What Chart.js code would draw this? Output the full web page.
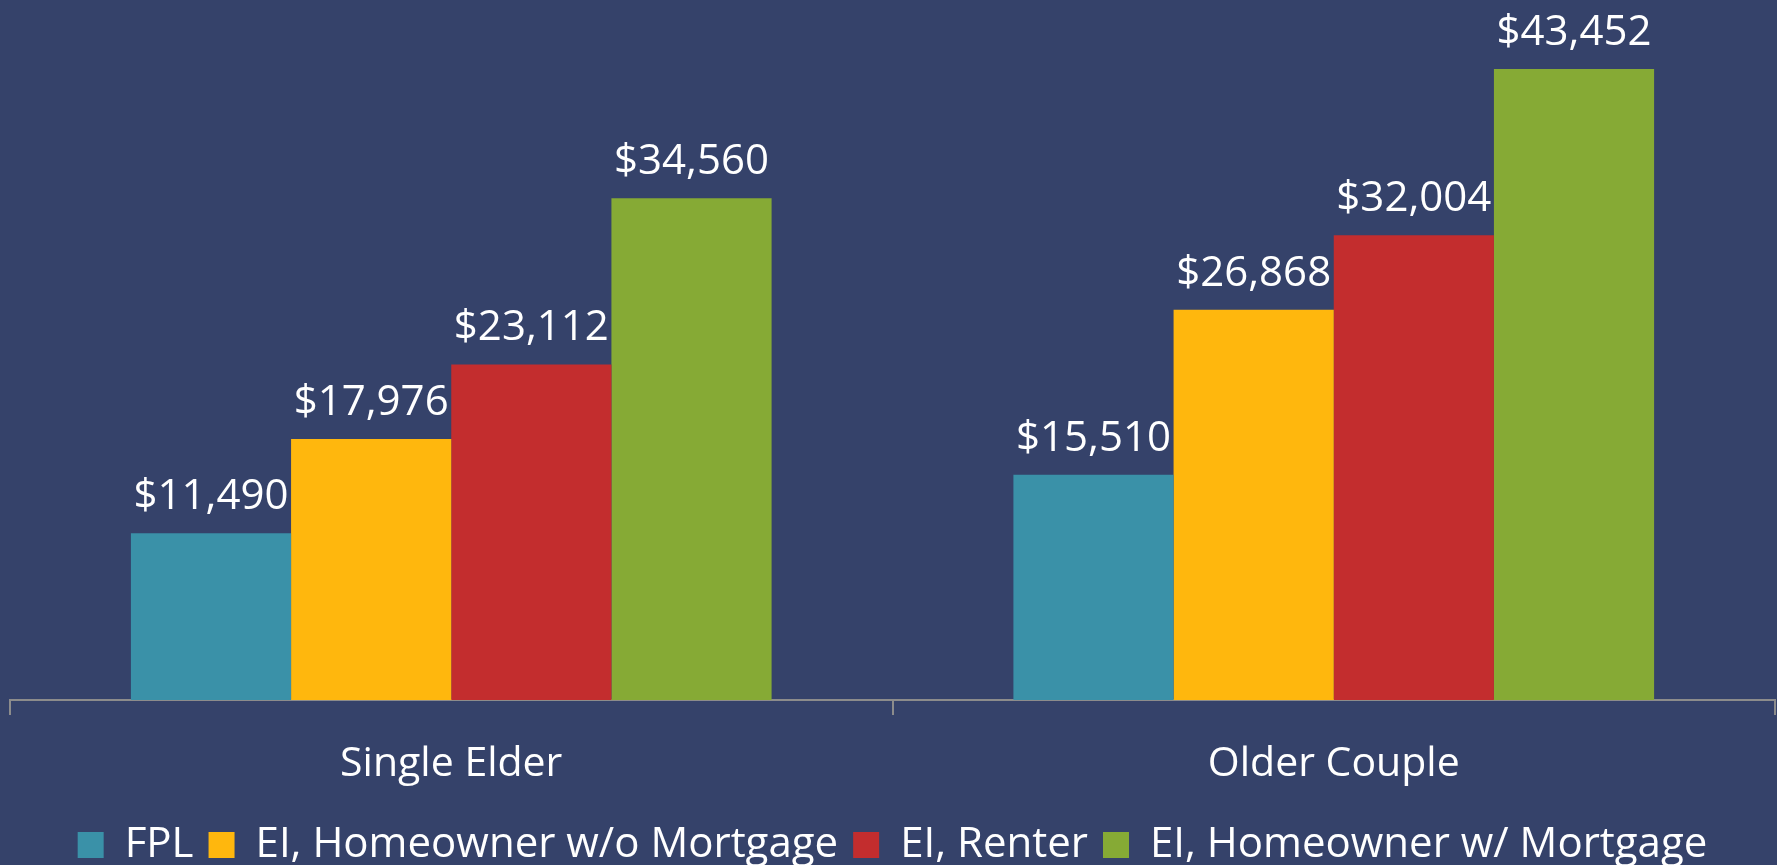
<!DOCTYPE html>
<html>
<head>
<meta charset="utf-8">
<title>Elder Index vs FPL</title>
<script src="https://cdn.jsdelivr.net/npm/chart.js@4.4.1/dist/chart.umd.min.js"></script>
<style>
  html, body { margin: 0; padding: 0; background: #35426A; }
  #chart-container { width: 1777px; height: 865px; position: relative; }
</style>
</head>
<body>
<div id="chart-container"><canvas id="elderChart"></canvas></div>
<script>
// Chart data
var categories = ['Single Elder', 'Older Couple'];
var seriesNames = ['FPL', 'EI, Homeowner w/o Mortgage', 'EI, Renter', 'EI, Homeowner w/ Mortgage'];
var fplValues = [11490, 15510];
var homeownerNoMortgageValues = [17976, 26868];
var renterValues = [23112, 32004];
var homeownerMortgageValues = [34560, 43452];
var seriesColors = ['#3A91A8', '#FFB70D', '#C32D2E', '#86AA35'];

var fontFamily = '"Open Sans", "Noto Sans", sans-serif';

// Format a number as a dollar label
function dollar(v) {
  return '$' + v.toLocaleString('en-US');
}

// Draws the value above every bar
var barLabels = {
  id: 'barLabels',
  afterDatasetsDraw: function (chart) {
    var ctx = chart.ctx;
    ctx.save();
    ctx.fillStyle = '#FFFFFF';
    ctx.font = '42px ' + fontFamily;
    ctx.textAlign = 'center';
    ctx.textBaseline = 'alphabetic';
    chart.data.datasets.forEach(function (ds, i) {
      var meta = chart.getDatasetMeta(i);
      meta.data.forEach(function (bar, j) {
        ctx.fillText(dollar(ds.data[j]), bar.x, bar.y - 24);
      });
    });
    ctx.restore();
  }
};

var seriesValues = [fplValues, homeownerNoMortgageValues, renterValues, homeownerMortgageValues];
var datasets = [];
for (var i = 0; i < seriesNames.length; i++) {
  datasets.push({
    label: seriesNames[i],
    data: seriesValues[i],
    backgroundColor: seriesColors[i],
    borderWidth: 0,
    categoryPercentage: 0.726,
    barPercentage: 1.0
  });
}

var ctx = document.getElementById('elderChart').getContext('2d');
var chart = new Chart(ctx, {
  type: 'bar',
  data: { labels: categories, datasets: datasets },
  options: {
    responsive: true,
    maintainAspectRatio: false,
    animation: false,
    layout: { padding: { top: 3, left: 10, right: 2, bottom: -11 } },
    plugins: {
      tooltip: { enabled: false },
      legend: {
        position: 'bottom',
        labels: {
          color: '#FFFFFF',
          font: { family: fontFamily, size: 42 },
          boxWidth: 26,
          boxHeight: 26,
          padding: 15
        }
      }
    },
    scales: {
      x: {
        grid: {
          display: true,
          drawOnChartArea: false,
          drawTicks: true,
          tickLength: 15,
          color: '#8C8C8C',
          lineWidth: 2
        },
        border: { display: true, color: '#8C8C8C', width: 2 },
        ticks: {
          color: '#FFFFFF',
          font: { family: fontFamily, size: 41 },
          padding: 25
        },
        afterFit: function (scale) {
          scale.height = 109;
        }
      },
      y: {
        display: false,
        min: 0,
        max: 48000
      }
    }
  },
  plugins: [barLabels]
});
</script>
</body>
</html>
